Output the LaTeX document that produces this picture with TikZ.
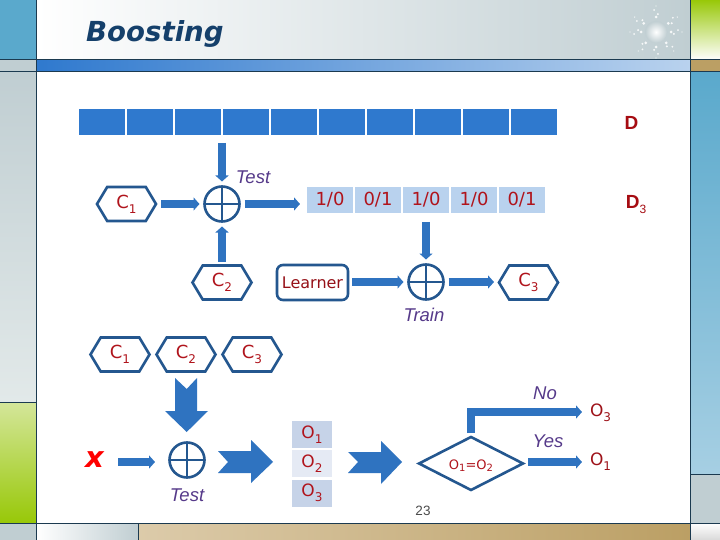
\documentclass[tikz,border=0pt]{standalone}
\usepackage{fontspec}
\setmainfont{DejaVu Sans}
\newfontfamily\lib{Liberation Sans}
\usetikzlibrary{arrows.meta,shapes.geometric,shapes.symbols,calc}
\definecolor{barblue}{HTML}{2F79CE}
\definecolor{edgeblue}{HTML}{24578F}
\definecolor{arblue}{HTML}{2F73C0}
\definecolor{cellblue}{HTML}{B9D2EE}
\definecolor{redtxt}{HTML}{B0141C}
\definecolor{darkred}{HTML}{A60C12}
\definecolor{purp}{HTML}{563A8A}
\definecolor{linedk}{HTML}{1B3A50}
\definecolor{titleblue}{HTML}{15406B}
\definecolor{sideg}{HTML}{C0CED2}
\definecolor{sidel}{HTML}{E2E9E9}
\definecolor{sideb}{HTML}{5AA9CC}
\definecolor{sidebl}{HTML}{A6CFE3}
\definecolor{tan1}{HTML}{BB9F64}
\definecolor{tan2}{HTML}{DCCBAA}
\definecolor{grn}{HTML}{98C808}
\definecolor{grnl}{HTML}{D4E69A}
\definecolor{oa}{HTML}{C6D3E8}
\definecolor{ob}{HTML}{E5EAF4}
\tikzset{
 x=1pt,y=-1pt,
 bar/.style={fill=barblue,minimum width=46,minimum height=26,inner sep=0,outer sep=0,anchor=north west},
 codecell/.style={fill=cellblue,minimum width=46,minimum height=26,inner sep=0,outer sep=0,text=redtxt,font=\fontsize{18}{18}\selectfont},
 hexa/.style={signal,signal to=west and east,signal pointer angle=118,draw=edgeblue,line width=2.6pt,fill=white,minimum width=59,minimum height=34,inner sep=0,text=redtxt,font=\fontsize{18}{18}\selectfont,outer sep=0},
 xorc/.style={circle,draw=edgeblue,line width=2.6pt,minimum size=35,inner sep=0,outer sep=0},
 flow/.style={draw=arblue,line width=7.5pt,-{Triangle[length=6pt,width=13pt]}},
 bigar/.style={fill=arblue},
 lbl/.style={text=purp,font=\lib\itshape\fontsize{18.5}{18.5}\selectfont,inner sep=0},
 outc/.style={minimum width=40,minimum height=27,inner sep=0,text=redtxt,font=\fontsize{17}{17}\selectfont},
 darkl/.style={text=darkred,font=\lib\bfseries\fontsize{19}{19}\selectfont,inner sep=0},
 outl/.style={text=redtxt!90!black,font=\fontsize{17}{17}\selectfont,inner sep=0},
}
\newcommand{\subx}[1]{\raisebox{-5pt}{\mdseries\fontsize{12}{12}\selectfont #1}}
\newcommand{\xorlines}[1]{\draw[edgeblue,line width=2.6pt] (#1.north)--(#1.south) (#1.west)--(#1.east);}
\begin{document}
\begin{tikzpicture}
\useasboundingbox (0,0) rectangle (720,540);
% background
\fill[white] (0,0) rectangle (720,540);
\fill[sideb] (0,0) rectangle (36,60);
\fill[sideg] (0,60) rectangle (36,72);
\shade[top color=sideg,bottom color=sidel] (0,72) rectangle (36,402);
\shade[top color=grnl,bottom color=grn] (0,402) rectangle (36,523);
\fill[sideg] (0,523) rectangle (36,540);
\shade[left color=white,right color=sideg] (36,0) rectangle (690,60);
\shade[left color=barblue,right color=cellblue] (36,60) rectangle (690,72);
\shade[left color=white,right color=sideg] (36,523) rectangle (138,540);
\shade[left color=tan2,right color=tan1] (138,523) rectangle (690,540);
\shade[top color=grn,bottom color=white] (690,0) rectangle (720,60);
\fill[tan1] (690,60) rectangle (720,72);
\shade[top color=sideb,bottom color=sidebl] (690,72) rectangle (720,474);
\fill[sideg] (690,474) rectangle (720,523);
\shade[top color=white,bottom color=black!15] (690,523) rectangle (720,540);
\draw[linedk,line width=1pt] (0,60)--(720,60) (0,72)--(720,72) (36,0)--(36,540) (690,0)--(690,540) (0,523)--(720,523) (0,402)--(36,402) (690,474)--(720,474) (138,523)--(138,540);
% sun
\shade[inner color=white,outer color=sideg] (656,32) circle (11);
\foreach \a in {0,47,90,133,180,215,270,325}{
 \fill[white,opacity=.85] ($(656,32)+(\a:15)$) circle (1.5) ($(656,32)+(\a+6:18)$) circle (1.1) ($(656,32)+(\a-5:22)$) circle (1) ($(656,32)+(\a:26)$) circle (.7);
}
% title
\node[anchor=west,inner sep=0,text=titleblue,font=\bfseries\itshape\fontsize{27.6}{27.6}\selectfont] (title) at (86,33.5) {Boosting};
% data bar
\foreach \i in {0,...,9}{\node[bar] (b\i) at ({79+48*\i},109) {};}
\node[darkl] (D) at (631.5,123) {D};
% codes
\node[codecell] (k1) at (330,200) {1/0};
\node[codecell] (k2) at (378,200) {0/1};
\node[codecell] (k3) at (426,200) {1/0};
\node[codecell] (k4) at (474,200) {1/0};
\node[codecell] (k5) at (522,200) {0/1};
\node[darkl] (D3) at (636,205) {D\subx{3}};
% upper group
\node[hexa] (c1) at (126.5,204) {C\subx{1}};
\node[xorc] (x1) at (222,204) {}; \xorlines{x1}
\node[lbl] (t1) at (253,177) {Test};
\node[hexa] (c2) at (222,282.5) {C\subx{2}};
\node[draw=edgeblue,line width=2.6pt,rounded corners=6pt,minimum width=71,minimum height=35,inner sep=0,outer sep=0,text=redtxt!85!black,font=\fontsize{16}{16}\selectfont] (learn) at (312.5,282.5) {Learner};
\node[xorc] (x2) at (426,282) {}; \xorlines{x2}
\node[hexa] (c3) at (528.5,282.5) {C\subx{3}};
\node[lbl] (t2) at (424,315) {Train};
\coordinate (a0) at (222,143);
\coordinate (a1) at (426,222);
\draw[flow] (a0) -- ([yshift=5pt]x1.north);
\draw[flow] ([xshift=5pt]x1.east -| c1.east) -- ([xshift=-5pt]x1.west);
\draw[flow] ([xshift=5pt]x1.east) -- ([xshift=-7pt]k1.west |- x1.east);
\draw[flow] ([yshift=4pt]c2.north) -- ([yshift=-5pt]x1.south);
\draw[flow] ([xshift=4pt]x2.west -| learn.east) -- ([xshift=-5pt]x2.west);
\draw[flow] (a1) -- ([yshift=5pt]x2.north);
\draw[flow] ([xshift=5pt]x2.east) -- ([xshift=-5pt]c3.west |- x2.east);
% lower group
\node[hexa] (d1) at (120,354.5) {C\subx{1}};
\node[hexa] (d2) at (186,354.5) {C\subx{2}};
\node[hexa] (d3) at (252,354.5) {C\subx{3}};
\fill[bigar] (175,378)--(186.7,389)--(197,378)--(197,411)--(208,411)--(186.7,432)--(165,411)--(175,411)--cycle;
\node[text=red,inner sep=0,font=\bfseries\itshape\fontsize{29}{29}\selectfont] (xx) at (94.5,460) {x};
\node[xorc] (x3) at (187,460) {}; \xorlines{x3}
\node[lbl] (t3) at (187,495) {Test};
\coordinate (xs) at (118,462);
\coordinate (xe) at (155,462);
\draw[flow] (xs) -- (xe);
\fill[bigar] (218,451)--(228,462)--(218,473)--(251,473)--(251,483)--(273,462)--(251,440)--(251,451)--cycle;
\node[outc,fill=oa] (o1) at (312,434.5) {O\subx{1}};
\node[outc,fill=ob] (o2) at (312,463.5) {O\subx{2}};
\node[outc,fill=oa] (o3) at (312,493) {O\subx{3}};
\fill[bigar] (348,452)--(358,462)--(348,473)--(381,473)--(381,484)--(402,462)--(381,441)--(381,452)--cycle;
\node[diamond,draw=edgeblue,line width=2.6pt,minimum width=104,minimum height=53,aspect=1.96,inner sep=0,outer sep=0] (dm) at (471,463.5) {};
\node[text=redtxt,inner sep=0,font=\fontsize{13}{13}\selectfont] (dmt) at (471,465.5) {O\raisebox{-2pt}{\fontsize{10}{10}\selectfont 1}=O\raisebox{-2pt}{\fontsize{10}{10}\selectfont 2}};
\node[outl] (r3) at (600.5,412.5) {O\subx{3}};
\node[outl] (r1) at (600.5,461.5) {O\subx{1}};
\node[lbl] (no) at (545,393.5) {No};
\node[lbl] (yes) at (548,441) {Yes};
\coordinate (e3) at (582,412);
\coordinate (e1) at (582,462);
\draw[flow] ([yshift=4pt]dm.north) -- (dm.north |- e3) -- (e3);
\draw[flow] ([xshift=5pt]dm.east |- e1) -- (e1);
\node[text=black!70,font=\lib\fontsize{13.5}{13.5}\selectfont,inner sep=0] (pg) at (423,511) {23};
\end{tikzpicture}
\end{document}
